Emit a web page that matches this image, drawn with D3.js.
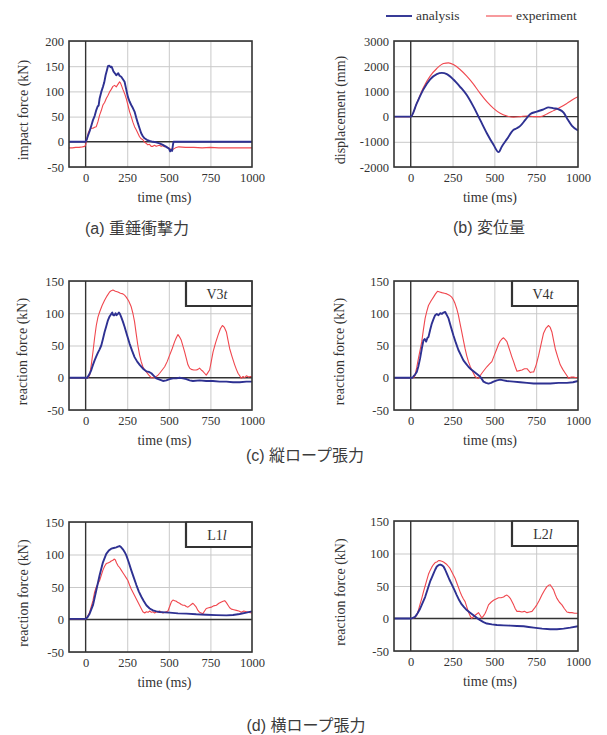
<!DOCTYPE html>
<html>
<head>
<meta charset="utf-8">
<script src="https://cdn.jsdelivr.net/npm/d3@7"></script>
<style>
  html, body { margin: 0; padding: 0; background: #fff; }
  svg { display: block; }
</style>
</head>
<body>
<svg id="chart" width="607" height="735"></svg>
<script>
// ---- data: [time (ms), value] ----
const timeDomain = [-100, 1000];
const timeTicks = [0, 250, 500, 750, 1000];
const timeGrid = [250, 500, 750];
const impactTicks = [-50, 0, 50, 100, 150, 200];
const displacementTicks = [-2000, -1000, 0, 1000, 2000, 3000];
const reactionTicks = [-50, 0, 50, 100, 150];
const seriesNames = ["analysis", "experiment"];

const impactAnalysis = [[-100,0],[0,0],[8,6],[14,12],[25,22],[35,33],[44,43],[55,52],[64,63],[72,70],[78,72],[84,86],[94,99],[104,109],[112,118],[120,132],[128,142],[134,150],[142,151],[150,148],[156,149],[162,144],[168,139],[176,136],[184,132],[190,134],[196,136],[204,131],[214,129],[224,124],[234,119],[244,104],[254,89],[264,80],[274,73],[284,67],[294,60],[304,48],[314,37],[324,27],[334,17],[344,11],[354,7],[368,4],[384,2],[404,0],[424,-1],[444,-3],[464,-6],[480,-9],[494,-12],[502,-14],[508,-19],[514,-16],[520,-18],[524,-8],[528,0],[1000,0]];
const impactExperiment = [[-100,-12],[-80,-12],[-60,-11],[-40,-11],[-20,-10],[-5,-9],[0,-6],[8,6],[16,18],[24,24],[34,27],[44,27],[54,29],[64,30],[74,40],[84,53],[94,62],[104,73],[114,78],[124,86],[134,92],[144,99],[154,104],[164,110],[174,112],[184,109],[194,114],[204,119],[209,117],[214,113],[224,104],[234,96],[244,86],[254,73],[264,60],[274,50],[284,39],[294,30],[304,24],[314,17],[324,10],[334,6],[344,4],[354,-1],[364,-3],[374,-6],[384,-5],[394,-9],[404,-9],[414,-7],[424,-9],[434,-8],[444,-7],[454,-9],[464,-8],[474,-10],[484,-9],[494,-12],[504,-13],[514,-15],[525,-15],[540,-12],[560,-10],[600,-11],[650,-11],[700,-12],[750,-11],[800,-12],[850,-12],[900,-12],[950,-12],[1000,-12]];

const displacementAnalysis = [[-100,0],[0,0],[36,526],[76,1079],[116,1474],[156,1684],[186,1737],[216,1684],[255,1474],[295,1184],[335,855],[375,395],[415,-132],[455,-658],[495,-1118],[525,-1410],[545,-1184],[575,-895],[615,-526],[635,-460],[655,-368],[685,-132],[715,105],[754,197],[794,289],[824,368],[854,329],[884,289],[914,158],[934,-66],[964,-368],[1000,-553]];
const displacementExperiment = [[-100,0],[0,0],[36,526],[76,1158],[116,1605],[156,1908],[196,2105],[226,2132],[255,2066],[295,1868],[335,1605],[375,1289],[415,921],[455,592],[495,329],[535,132],[575,26],[615,-20],[655,0],[695,26],[735,0],[774,0],[814,105],[854,237],[894,368],[934,526],[974,697],[1000,790]];

const v3Analysis = [[-100,0],[0,0],[10,0],[14,2],[24,6],[34,12],[44,20],[54,27],[64,33],[74,39],[84,44],[94,50],[104,60],[114,71],[124,80],[134,89],[144,95],[154,99],[160,101],[166,97],[174,97],[180,100],[186,97],[194,99],[200,101],[206,99],[214,94],[224,87],[234,79],[249,66],[264,53],[279,42],[294,32],[310,25],[325,20],[345,14],[365,10],[380,9],[395,7],[410,3],[425,-1],[445,-3],[465,-5],[485,-4],[505,-2],[525,-1],[545,-1],[565,0],[585,-1],[605,-2],[625,-4],[645,-5],[685,-4],[725,-5],[765,-5],[806,-6],[846,-6],[886,-7],[926,-7],[966,-6],[1000,-6]];
const v3Experiment = [[-100,0],[0,0],[15,0],[24,4],[34,20],[44,40],[54,62],[64,81],[74,94],[84,102],[99,112],[114,120],[129,127],[144,133],[154,135],[164,136],[179,134],[194,133],[209,131],[224,130],[234,128],[244,125],[259,119],[274,110],[284,100],[294,87],[304,68],[314,50],[324,36],[334,25],[344,17],[355,12],[365,9],[380,4],[395,0],[410,0],[425,2],[435,4],[445,7],[460,12],[475,17],[490,25],[505,35],[520,45],[535,56],[545,62],[555,67],[565,63],[575,58],[585,49],[595,40],[605,30],[615,20],[625,15],[635,13],[650,12],[665,12],[675,13],[685,15],[695,12],[705,10],[715,7],[725,4],[735,8],[745,12],[755,25],[766,40],[781,54],[796,66],[810,76],[822,81],[834,78],[846,71],[856,58],[866,45],[881,32],[896,20],[906,13],[916,7],[926,3],[936,-1],[946,2],[956,0],[966,3],[980,1],[990,2],[1000,1]];

const v4Analysis = [[-100,0],[0,0],[10,0],[16,2],[26,5],[36,9],[46,18],[56,30],[66,45],[76,58],[84,60],[92,56],[100,62],[106,63],[116,74],[126,84],[136,91],[146,97],[156,99],[166,97],[176,100],[186,99],[196,101],[206,102],[216,97],[226,92],[240,79],[255,66],[270,54],[285,43],[300,35],[315,27],[330,22],[345,17],[360,13],[375,10],[390,7],[405,4],[420,0],[435,-6],[450,-8],[465,-9],[480,-8],[495,-6],[515,-4],[535,-3],[555,-4],[575,-5],[615,-6],[655,-7],[695,-8],[735,-9],[785,-9],[834,-9],[884,-8],[934,-8],[970,-7],[1000,-5]];
const v4Experiment = [[-100,0],[0,0],[18,0],[26,4],[36,16],[46,30],[56,43],[66,56],[76,75],[86,92],[96,103],[106,112],[121,119],[136,125],[148,130],[160,134],[173,133],[186,132],[201,131],[216,130],[231,128],[245,125],[255,121],[265,115],[275,107],[285,97],[295,84],[305,71],[315,58],[325,45],[335,34],[345,25],[355,18],[365,12],[375,7],[385,2],[395,0],[405,-1],[415,3],[425,7],[440,12],[455,17],[470,21],[485,25],[500,35],[515,45],[525,52],[535,57],[545,60],[555,62],[565,59],[575,56],[585,48],[595,40],[605,32],[615,25],[625,17],[635,10],[650,11],[665,12],[680,14],[695,14],[705,11],[715,8],[725,9],[735,9],[750,20],[765,35],[780,53],[794,69],[809,77],[824,81],[834,78],[844,71],[854,58],[864,45],[879,32],[894,20],[909,13],[924,7],[934,3],[944,-1],[959,1],[974,1],[990,0],[1000,1]];

const l1Analysis = [[-100,1],[0,1],[10,3],[24,9],[44,22],[64,45],[84,68],[104,88],[124,101],[139,106],[154,109],[169,110],[184,111],[194,112],[204,113],[214,111],[224,108],[234,104],[244,99],[259,88],[274,76],[290,64],[305,53],[320,43],[335,35],[350,28],[365,22],[385,17],[405,14],[425,12.5],[445,11.5],[475,11],[505,10.5],[555,9.5],[605,9],[665,8],[725,7.4],[785,6.8],[846,6.4],[886,7],[926,8.5],[966,10.5],[1000,12.5]];
const l1Experiment = [[-100,1],[0,1],[10,4],[24,11],[34,20],[44,29],[54,42],[64,50],[74,55],[84,60],[94,68],[104,76],[114,82],[124,86],[134,87],[144,88],[154,90],[164,91],[171,93],[178,92],[186,87],[194,83],[204,80],[214,76],[224,72],[234,68],[244,64],[254,60],[264,53],[274,47],[284,42],[294,37],[304,32],[314,27],[324,22],[334,17],[344,12],[355,10],[365,12],[375,11],[385,13],[395,11],[405,12],[415,10],[425,12],[435,11],[445,13],[455,11],[465,10],[475,11],[485,12],[495,13],[505,20],[515,27],[525,30],[535,29],[545,28],[555,26],[565,25],[575,23],[585,22],[595,22],[605,20],[615,19],[625,21],[635,23],[645,25],[655,22],[665,19],[675,14],[685,11],[695,10],[705,9],[715,13],[725,17],[740,18],[755,19],[770,21],[786,22],[801,25],[816,27],[826,28],[836,29],[846,26],[856,22],[866,18],[876,16],[891,15],[906,14],[921,13],[936,11],[951,13],[966,12],[981,11],[1000,10]];

const l2Analysis = [[-100,0],[0,0],[10,0.5],[26,2.5],[41,8],[56,15],[71,24],[86,33],[101,45],[116,57],[126,63],[136,69],[146,75],[156,80],[166,82],[176,83],[186,82],[196,80],[206,75],[216,69],[231,60],[246,52],[261,44],[275,36],[290,28],[305,21.6],[320,17],[335,13],[355,9],[375,5],[395,1],[415,-2.6],[435,-5.5],[455,-7.7],[485,-9],[515,-10],[555,-10.5],[595,-11],[635,-11.5],[675,-12],[705,-13],[735,-14],[785,-15.5],[834,-16.5],[874,-16.5],[914,-15.5],[954,-14],[1000,-12]];
const l2Experiment = [[-100,0],[0,0],[12,0],[24,2],[36,5],[46,13],[56,22],[66,31],[76,41],[86,50],[96,59],[106,68],[116,74],[126,79],[136,83],[146,86],[156,87],[166,89],[176,89],[186,88],[196,87],[206,85],[216,83],[226,80],[235,77],[245,72],[255,67],[265,62],[275,55],[285,48],[295,41],[305,35],[315,30],[325,26],[335,18],[345,10],[355,4],[365,0],[375,3],[385,5],[395,7],[405,9],[415,5],[425,1],[435,4],[445,8],[455,14],[465,21],[480,25],[495,28],[510,30],[525,32],[540,32],[555,33],[565,35],[575,36],[585,34],[595,31],[605,26],[615,21],[625,15],[635,11],[650,11],[665,10],[680,11],[695,9],[710,10],[725,11],[740,16],[754,21],[769,28],[784,36],[799,43],[814,49],[824,51],[834,52],[844,48],[854,44],[864,37],[874,31],[889,25],[904,21],[919,15],[934,10],[949,9],[964,9],[980,8],[1000,8]];

// ---- drawing ----
const SERIF = "'Liberation Serif','Times New Roman',serif";
const SANS = "'Liberation Sans',Arial,'Noto Sans CJK JP',sans-serif";
const BLUE = "#2e3192";
const RED = "#f0474e";
const INK = "#333";

const svg = d3.select("#chart");

const panels = [
  { frame: [69, 41, 252, 167], yDomain: [-50, 200], yTicks: impactTicks, yTitle: "impact force (kN)", titleGap: 46,
    analysis: impactAnalysis, experiment: impactExperiment, curve: d3.curveLinear },
  { frame: [394, 41, 578, 167], yDomain: [-2000, 3000], yTicks: displacementTicks, yTitle: "displacement (mm)", titleGap: 54,
    analysis: displacementAnalysis, experiment: displacementExperiment, curve: d3.curveMonotoneX },
  { frame: [69, 281, 252, 410], yDomain: [-50, 150], yTicks: reactionTicks, yTitle: "reaction force (kN)", titleGap: 47,
    analysis: v3Analysis, experiment: v3Experiment, curve: d3.curveLinear, tag: ["V3", "t"] },
  { frame: [394, 281, 578, 410], yDomain: [-50, 150], yTicks: reactionTicks, yTitle: "reaction force (kN)", titleGap: 55,
    analysis: v4Analysis, experiment: v4Experiment, curve: d3.curveLinear, tag: ["V4", "t"] },
  { frame: [69, 522, 252, 652], yDomain: [-50, 150], yTicks: reactionTicks, yTitle: "reaction force (kN)", titleGap: 46,
    analysis: l1Analysis, experiment: l1Experiment, curve: d3.curveLinear, tag: ["L1", "l"] },
  { frame: [394, 521, 578, 651], yDomain: [-50, 150], yTicks: reactionTicks, yTitle: "reaction force (kN)", titleGap: 54,
    analysis: l2Analysis, experiment: l2Experiment, curve: d3.curveLinear, tag: ["L2", "l"] }
];

panels.forEach((p, i) => {
  const [x0, y0, x1, y1] = p.frame;
  const w = x1 - x0, h = y1 - y0;
  const x = d3.scaleLinear().domain(timeDomain).range([x0, x1]);
  const y = d3.scaleLinear().domain(p.yDomain).range([y1, y0]);
  const g = svg.append("g");

  // grid
  g.append("g")
    .attr("transform", `translate(0,${y1})`)
    .call(d3.axisBottom(x).tickValues(timeGrid).tickSize(-h).tickFormat(""))
    .call(s => s.select(".domain").remove())
    .call(s => s.selectAll("line").attr("stroke", "#c9c9c9").attr("stroke-width", 1));
  g.append("g")
    .attr("transform", `translate(${x0},0)`)
    .call(d3.axisLeft(y).tickValues(p.yTicks.filter(v => v !== 0)).tickSize(-w).tickFormat(""))
    .call(s => s.select(".domain").remove())
    .call(s => s.selectAll("line").attr("stroke", "#c9c9c9").attr("stroke-width", 1));

  // zero lines
  g.append("line").attr("x1", x0).attr("x2", x1).attr("y1", y(0)).attr("y2", y(0))
    .attr("stroke", INK).attr("stroke-width", 1.4);
  g.append("line").attr("x1", x(0)).attr("x2", x(0)).attr("y1", y0).attr("y2", y1)
    .attr("stroke", INK).attr("stroke-width", 1.4);

  // series
  const clipId = "clip" + i;
  svg.append("clipPath").attr("id", clipId)
    .append("rect").attr("x", x0).attr("y", y0).attr("width", w).attr("height", h);
  const line = d3.line().x(d => x(d[0])).y(d => y(d[1])).curve(p.curve);
  const plot = g.append("g").attr("clip-path", `url(#${clipId})`);
  plot.append("path").datum(p.experiment).attr("d", line)
    .attr("fill", "none").attr("stroke", RED).attr("stroke-width", 1.1).attr("stroke-linejoin", "round");
  plot.append("path").datum(p.analysis).attr("d", line)
    .attr("fill", "none").attr("stroke", BLUE).attr("stroke-width", 1.9).attr("stroke-linejoin", "round");

  // tag box
  if (p.tag) {
    const bw = 66, bh = 25;
    const bx = x1 - bw, by = y0;
    g.append("rect").attr("x", bx).attr("y", by).attr("width", bw).attr("height", bh)
      .attr("fill", "#fff").attr("stroke", INK).attr("stroke-width", 1);
    g.append("path").attr("d", `M${bx},${by}V${by + bh}H${x1}`)
      .attr("fill", "none").attr("stroke", INK).attr("stroke-width", 2.2);
    const t = g.append("text").attr("x", bx + bw / 2 - 2).attr("y", by + 18)
      .attr("text-anchor", "middle").attr("font-family", SERIF).attr("font-size", 14).attr("fill", INK);
    t.append("tspan").text(p.tag[0]);
    t.append("tspan").attr("font-style", "italic").text(p.tag[1]);
  }

  // frame
  g.append("rect").attr("x", x0).attr("y", y0).attr("width", w).attr("height", h)
    .attr("fill", "none").attr("stroke", INK).attr("stroke-width", 1.6);

  // tick labels
  g.append("g")
    .attr("transform", `translate(0,${y1})`)
    .call(d3.axisBottom(x).tickValues(timeTicks).tickSize(0).tickPadding(6).tickFormat(d => String(d)))
    .call(s => s.select(".domain").remove())
    .call(s => s.selectAll("text").attr("font-family", SERIF).attr("font-size", 12.5).attr("fill", INK));
  g.append("g")
    .attr("transform", `translate(${x0},0)`)
    .call(d3.axisLeft(y).tickValues(p.yTicks).tickSize(0).tickPadding(5).tickFormat(d => String(d)))
    .call(s => s.select(".domain").remove())
    .call(s => s.selectAll("text").attr("font-family", SERIF).attr("font-size", 12.5).attr("fill", INK));

  // axis titles
  g.append("text").attr("x", (x0 + x1) / 2 + 4).attr("y", y1 + 35)
    .attr("text-anchor", "middle").attr("font-family", SERIF).attr("font-size", 14).attr("fill", INK)
    .text("time (ms)");
  g.append("text")
    .attr("transform", `translate(${x0 - p.titleGap},${(y0 + y1) / 2 + 6}) rotate(-90)`)
    .attr("dy", "0.35em")
    .attr("text-anchor", "middle").attr("font-family", SERIF).attr("font-size", 14).attr("fill", INK)
    .text(p.yTitle);
});

// legend
const legend = svg.append("g").attr("font-family", SERIF).attr("font-size", 13.5).attr("fill", INK);
[[386, BLUE, 1.9], [486, RED, 1.1]].forEach(([lx, color, sw], k) => {
  legend.append("line").attr("x1", lx).attr("x2", lx + 26).attr("y1", 16).attr("y2", 16)
    .attr("stroke", color).attr("stroke-width", sw);
  legend.append("text").attr("x", lx + 30).attr("y", 16).attr("dy", "0.32em").text(seriesNames[k]);
});

// captions
const captions = [
  { text: "(a) 重錘衝撃力", x: 85, y: 234, anchor: "start" },
  { text: "(b) 変位量", x: 453, y: 233, anchor: "start" },
  { text: "(c) 縦ロープ張力", x: 305, y: 461, anchor: "middle" },
  { text: "(d) 横ロープ張力", x: 306, y: 731, anchor: "middle" }
];
svg.append("g").selectAll("text").data(captions).join("text")
  .attr("x", d => d.x).attr("y", d => d.y).attr("text-anchor", d => d.anchor)
  .attr("font-family", SANS).attr("font-size", 16).attr("fill", "#3c3c3c")
  .text(d => d.text);
</script>
</body>
</html>
